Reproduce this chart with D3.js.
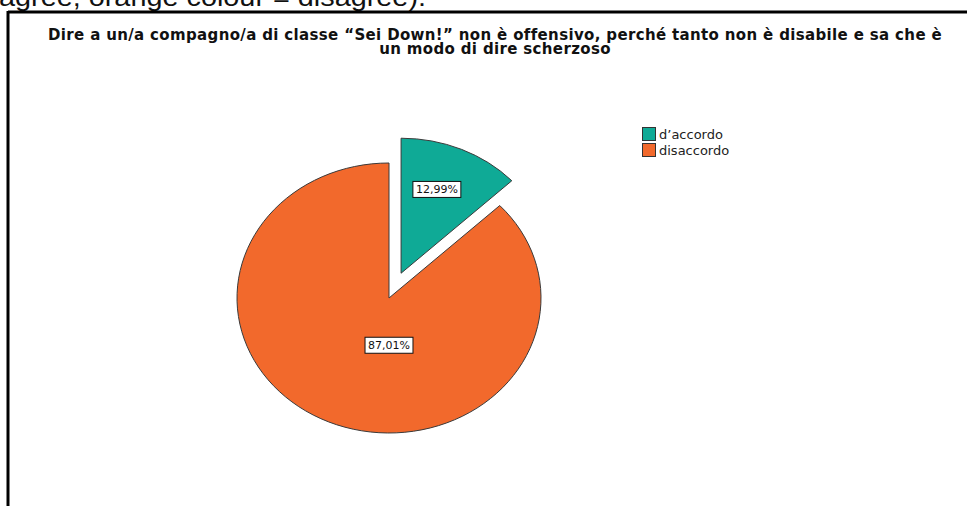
<!DOCTYPE html>
<html>
<head>
<meta charset="utf-8">
<script src="https://cdn.jsdelivr.net/npm/d3@7"></script>
<style>
  html, body { margin: 0; padding: 0; background: #fff; }
  svg { display: block; }
</style>
</head>
<body>
<svg id="chart" width="967" height="506"></svg>
<script>
// Response categories and their shares (percent)
const categories = ["d\u2019accordo", "disaccordo"];
const percentages = [12.99, 87.01];
const percentLabels = ["12,99%", "87,01%"];
const colors = ["#0faa96", "#f2692c"];
const exploded = [true, false];

const titleLines = [
  "Dire a un/a compagno/a di classe \u201cSei Down!\u201d non \u00e8 offensivo, perch\u00e9 tanto non \u00e8 disabile e sa che \u00e8",
  "un modo di dire scherzoso"
];
const captionText = "agree, orange colour = disagree).";

const svg = d3.select("#chart");
const W = 967, H = 506;

// caption line running above the chart frame (clipped by the page top)
svg.append("text")
  .attr("x", -1).attr("y", 6)
  .attr("font-family", "Liberation Sans, Arial, sans-serif")
  .attr("font-size", 26)
  .attr("textLength", 427)
  .attr("lengthAdjust", "spacingAndGlyphs")
  .attr("fill", "#111")
  .text(captionText);

// chart frame: top and left edges
svg.append("line").attr("x1", 8).attr("x2", W).attr("y1", 12).attr("y2", 12)
  .attr("stroke", "#000").attr("stroke-width", 3);
svg.append("line").attr("x1", 8).attr("x2", 8).attr("y1", 11).attr("y2", H)
  .attr("stroke", "#000").attr("stroke-width", 3);

// title, two centred lines
const title = svg.append("text")
  .attr("font-family", "DejaVu Sans, Verdana, sans-serif")
  .attr("font-weight", "bold")
  .attr("font-size", 15)
  .attr("letter-spacing", 0.35)
  .attr("fill", "#111")
  .attr("text-anchor", "middle");
titleLines.forEach((t, i) => {
  title.append("tspan").attr("x", 495).attr("y", 40 + i * 14).text(t);
});

// pie geometry: drawn on a circle of radius R, stretched horizontally
const cx = 389, cy = 298;
const R = 135, sx = 152 / 135;
const explodeDist = 0.2 * R;

const pie = d3.pie().sort(null).value(d => d)(percentages);
const arc = d3.arc().innerRadius(0).outerRadius(R);

function offsetFor(p, i) {
  if (!exploded[i]) return [0, 0];
  const a = (p.startAngle + p.endAngle) / 2;
  return [Math.sin(a) * explodeDist, -Math.cos(a) * explodeDist];
}

const pieG = svg.append("g")
  .attr("transform", `translate(${cx},${cy}) scale(${sx},1)`);

pieG.selectAll("path")
  .data(pie)
  .join("path")
  .attr("transform", (p, i) => {
    const [ox, oy] = offsetFor(p, i);
    return `translate(${ox},${oy})`;
  })
  .attr("d", arc)
  .attr("fill", (p, i) => colors[i])
  .attr("stroke", "#3a3a3a")
  .attr("stroke-width", 1)
  .attr("vector-effect", "non-scaling-stroke");

// value labels in white boxes
function labelPos(p, i) {
  const [ox, oy] = offsetFor(p, i);
  if (p.endAngle - p.startAngle > Math.PI) {
    // large slice: label sits below the pie centre
    return [cx, cy + 0.35 * R];
  }
  const a = (p.startAngle + p.endAngle) / 2;
  const r = 0.66 * R;
  return [cx + (ox + Math.sin(a) * r) * sx - 4, cy + oy - Math.cos(a) * r - 2];
}

const labels = svg.append("g")
  .attr("font-family", "DejaVu Sans, Verdana, sans-serif")
  .attr("font-size", 11);

pie.forEach((p, i) => {
  const [lx, ly] = labelPos(p, i);
  const g = labels.append("g").attr("transform", `translate(${lx},${ly})`);
  const t = g.append("text")
    .attr("text-anchor", "middle")
    .attr("dy", "0.36em")
    .attr("fill", "#111")
    .text(percentLabels[i]);
  const w = t.node().getComputedTextLength() + 6;
  g.insert("rect", "text")
    .attr("x", -w / 2).attr("y", -8)
    .attr("width", w).attr("height", 16)
    .attr("fill", "#fff")
    .attr("stroke", "#111")
    .attr("stroke-width", 1);
});

// legend
const legend = svg.append("g").attr("transform", "translate(642,127)");
categories.forEach((c, i) => {
  const row = legend.append("g").attr("transform", `translate(0,${i * 16})`);
  row.append("rect")
    .attr("x", 0.5).attr("y", 0.5)
    .attr("width", 13).attr("height", 13)
    .attr("fill", colors[i])
    .attr("stroke", "#333")
    .attr("stroke-width", 1);
  row.append("text")
    .attr("x", 17).attr("y", 11.5)
    .attr("font-family", "DejaVu Sans, Verdana, sans-serif")
    .attr("font-size", 13)
    .attr("fill", "#222")
    .text(c);
});
</script>
</body>
</html>
